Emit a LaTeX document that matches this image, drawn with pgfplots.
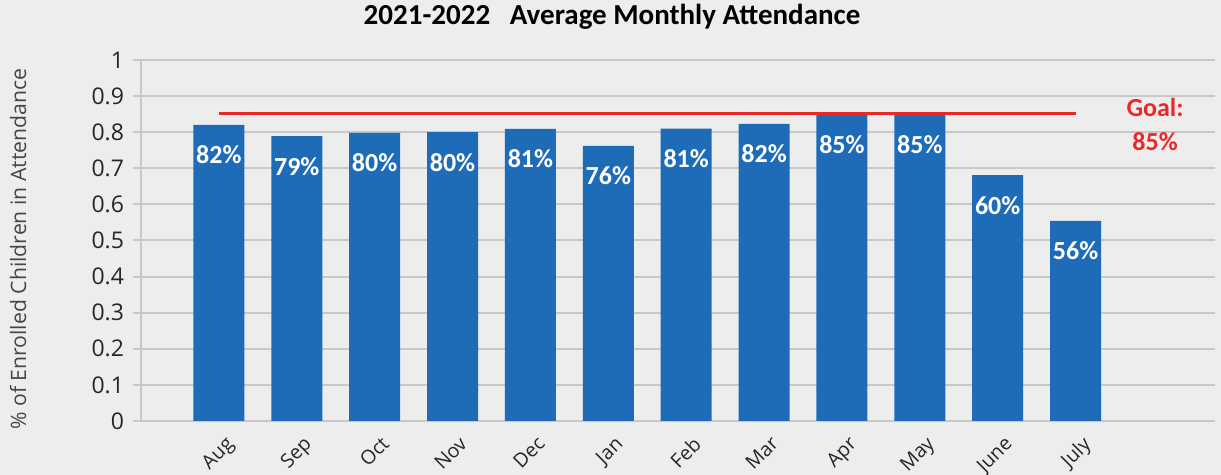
\documentclass[border=0pt]{standalone}
\usepackage{pgfplots}
\pgfplotsset{compat=1.18}
\usepackage{fontspec}
\setmainfont{Carlito}
\newfontfamily\osans{Open Sans}
\definecolor{barblue}{RGB}{30,108,184}
\definecolor{goalred}{RGB}{234,40,40}
\definecolor{bg}{RGB}{237,237,237}
\definecolor{gridc}{RGB}{200,200,200}
\definecolor{labgray}{RGB}{70,70,70}
\begin{document}
\begin{tikzpicture}
\path[use as bounding box, fill=bg] (0,0) rectangle (610.5pt,237.5pt);
\node[font=\fontsize{14.5}{17}\selectfont\bfseries] at (306pt,229pt) {2021-2022\ \ \ Average Monthly Attendance};
\begin{axis}[
  at={(70.5pt,27pt)}, anchor=south west,
  scale only axis, width=537pt, height=180.5pt,
  xmin=-1, xmax=12.79, ymin=0, ymax=1,
  axis x line*=bottom, axis y line*=left,
  axis line style={gridc, line width=1pt},
  xtick={0,1,2,3,4,5,6,7,8,9,10,11},
  xticklabels={Aug,Sep,Oct,Nov,Dec,Jan,Feb,Mar,Apr,May,June,July},
  xtick style={draw=none},
  ytick={0,0.1,0.2,0.3,0.4,0.5,0.6,0.7,0.8,0.9,1},
  yticklabels={0,0.1,0.2,0.3,0.4,0.5,0.6,0.7,0.8,0.9,1},
  tick align=outside, major tick length=4pt,
  ytick style={gridc, line width=1pt},
  ymajorgrids, grid style={gridc, line width=1pt},
  yticklabel style={font=\osans\fontsize{11.5}{13}\selectfont, text=black!85, xshift=-1pt},
  xticklabel style={rotate=45, anchor=north east, inner sep=1pt, xshift=1pt, yshift=-3pt, font=\osans\fontsize{9.8}{11}\selectfont, text=black!85},
  ylabel={\% of Enrolled Children in Attendance},
  ylabel style={at={(axis description cs:-0.1145,0.476)}, anchor=center, font=\osans\fontsize{10.6}{12}\selectfont, text=labgray},
]
\addplot[ybar, bar width=25.5pt, fill=barblue, draw=none,
  point meta=explicit symbolic, nodes near coords,
  nodes near coords style={anchor=center, yshift=-15pt, text=white, font=\fontsize{13}{15}\selectfont\bfseries}]
  coordinates {
  (0,0.82)[82\%] (1,0.789)[79\%] (2,0.798)[80\%] (3,0.80)[80\%]
  (4,0.809)[81\%] (5,0.762)[76\%] (6,0.81)[81\%] (7,0.823)[82\%]
  (8,0.85)[85\%] (9,0.85)[85\%] (10,0.681)[60\%] (11,0.554)[56\%]
  };
\addplot[goalred, line width=1.6pt] coordinates {(0,0.852) (11,0.852)};
\node[text=goalred, font=\fontsize{13}{17}\selectfont\bfseries, align=center] at (axis cs:12.02,0.82) {Goal:\\85\%};
\end{axis}
\end{tikzpicture}
\end{document}
